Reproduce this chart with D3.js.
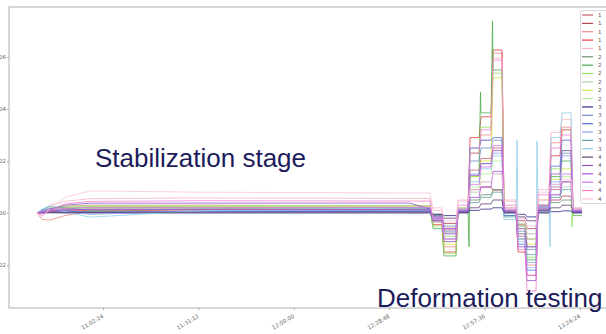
<!DOCTYPE html>
<html><head><meta charset="utf-8">
<script src="https://cdn.jsdelivr.net/npm/d3@7"></script>
<style>body{margin:0;background:#fff;overflow:hidden}</style>
</head><body><svg id="c" width="606" height="334"></svg>
<script>
// ---------- data (values in units of 1e-3) ----------
const seriesNames = ["1","1","1","1","1","2","2","2","2","2","2","3","3","3","3","3","3","4","4","4","4","4","4"];
const seriesColors = ["#c46070","#b04050","#ee8a8a","#e83c3c","#f8b4bc",
  "#6f8f6f","#4cae4c","#94e060","#b0d0b0","#d0e840","#b0f090",
  "#2c2c8c","#7090c4","#5070e0","#90a0f0","#60a4a4","#90d0ea",
  "#604070","#9050c4","#b050e0","#d474f0","#f080d0","#f8c4da"];
const stabTimes = ["10:42:28","10:43:58","10:46:23","10:50:55","10:58:28","11:31:41","12:35:07","12:41:09"];
const stabValues = [
  [0,0.5,1.5,2.5,3,3,2.8,2.8],
  [0,0.3,0.8,1.2,1.5,1.5,1.4,1.4],
  [0,-2.5,-2.7,-1,0.5,1.5,1.6,1.6],
  [0,0.2,0.5,0.8,1.0,1.2,1.2,1.2],
  [0,1,3,4.5,5.5,5.8,5.6,5.6],
  [0,0.2,0.5,0.5,0.6,0.6,0.5,0.5],
  [0,0.5,1.5,1.8,2,2.2,2.0,2.0],
  [0,0.5,1.8,2.3,2.5,2.5,2.4,2.4],
  [0,0.3,1,1.5,1.7,1.8,1.7,1.7],
  [0,0.4,1.3,2,2.2,2.3,2.2,2.2],
  [0,0.6,2,2.6,2.8,2.9,2.8,2.8],
  [0,0,0.1,0,0,0,0,0],
  [0,1,1.8,1,0.3,0.8,1,1],
  [0,0.5,1,0.6,0.2,0.5,0.6,0.6],
  [0,0.8,1.5,0.5,-0.5,0.8,1.3,1.3],
  [0,1.2,2.5,2,1,1.5,1.6,1.6],
  [0,1.5,2.8,0.5,-1.6,0.8,2.0,2.0],
  [0,0.1,0.2,0.2,0.2,0.3,0.3,0.3],
  [0,0.5,1.5,3,3.8,3.8,3.8,1.5],
  [0,0.3,0.8,1.2,1.4,1.4,1.3,1.3],
  [0,0.4,1.2,1.8,2.2,2.2,2.1,2.1],
  [0,-1,1,3.5,4.5,4.7,4.6,4.6],
  [0,-1.5,2,6,8.5,8,7.7,7.7]
];
const plateauStart = ["12:42:04","12:45:23","12:49:37","12:53:14","12:56:33","13:00:11","13:03:30","13:07:44","13:10:27","13:13:46","13:17:42","13:21:01","13:24:20"];
const plateauEnd   = ["12:44:47","12:49:00","12:52:38","12:55:57","12:59:35","13:02:54","13:07:08","13:09:51","13:13:10","13:17:05","13:20:25","13:23:44","13:27:04"];
const plateauValues = [
  [-2.0,-6.5,1.5,16.5,21,25,1.0,-4.5,-10,3.0,9,12,1.0],
  [-1.0,-4.0,0.8,9,10,8.8,0.5,-3.0,-6,1.5,5,6.5,0.5],
  [-3.5,-13,2.0,23,30,61.5,2.0,-8,-20,5.0,27,33,1.5],
  [-4.5,-15,1.0,29,37,62.7,0.5,-15,-24,3.0,22,32,1.0],
  [1.0,-5.5,5.0,25,28,59.6,5.0,-2,-8,9.0,31,36,2.0],
  [-1.5,-7.7,0.5,5,7,9,0.3,-5,-13,1.0,4,5,0.3],
  [-6.0,-16.5,0.5,14,38.5,55,-1.0,-10,-18,1.0,14,20,-1.0],
  [-5.0,-15.5,1.5,23,33,53.8,1.0,-9,-17,2.0,17,24,0.8],
  [-2.5,-9,1.0,8,12,15,0.5,-4,-8,1.5,7,10,0.8],
  [-3.0,-12,1.5,14,20,52,1.0,-6,-12,2.0,13,17,1.0],
  [-2.0,-9,2.0,10,15,20,1.0,-5,-10,2.5,10,14,1.2],
  [-0.5,-1,0,1,1.5,2,0,-0.5,-1.5,0,0.5,0.8,0],
  [-2.0,-7,1.0,20,25,28,0,-7,-14,2.0,11,23,0.5],
  [-3.0,-10,0.5,25,28,29,-1.0,-12,-22,1.0,18,28,0.5],
  [-2.5,-8,1.0,15,19,23,0,-10,-19,2.0,12,22,1.0],
  [-1.0,-5,0.5,4,6,8,-1.5,-8,-16,0.5,6,9,0.2],
  [-1.5,-6,1.5,12,17,22,-2.5,-11,-21,3.0,29,38.5,1.5],
  [-0.5,-2,0.2,2,3.5,5,0.2,-1.5,-3,0.3,2,3,0.2],
  [-3.0,-11,0.5,14.5,19,24,0.5,-13,-26,1.0,15,24,0.5],
  [-1.5,-6,0.8,6,10,16,1.0,-6,-13,1.5,7,12,0.8],
  [-2.0,-8,1.5,11,17.7,26,1.5,-9,-24,2.5,10,15,1.0],
  [-2.5,-10,3.0,23,32,58.8,3.0,-14,-30,7,25,30,1.5],
  [2.0,-3,4.5,9,12,15,4.5,-2,-5,8,11,13,2.0]
];
const spikeSeries = [6,6,6,16,16,16,7];
const spikeTimes  = ["12:52:56","12:56:24","13:00:02","13:07:26","13:13:28","13:17:23","13:24:02"];
const spikeValues = [-13,46.5,73.8,28,27.7,-13,-5.4];
const xTicks = ["11:02:24","11:31:12","12:00:00","12:28:48","12:57:36","13:26:24"];
const yTicks = [-0.02,0.00,0.02,0.04,0.06];
const xDomain = ["10:34:00","13:34:00"];
const yDomain = [-0.0365385,0.0792308];

// ---------- drawing ----------
const parse = d3.timeParse("%Y-%m-%d %H:%M:%S");
const T = s => parse("2020-01-01 " + s);
const svg = d3.select("#c");
const L = 9, R = 605, TOP = 7, B = 308;
const x = d3.scaleTime().domain(xDomain.map(T)).range([L, R]);
const y = d3.scaleLinear().domain(yDomain).range([B, TOP]);

const series = seriesNames.map((n, i) => {
  const pts = stabTimes.map((t, k) => ({t: T(t), v: stabValues[i][k]}));
  plateauStart.forEach((t, k) => {
    pts.push({t: T(t), v: plateauValues[i][k]});
    pts.push({t: T(plateauEnd[k]), v: plateauValues[i][k]});
  });
  spikeSeries.forEach((s, k) => { if (s === i) pts.push({t: T(spikeTimes[k]), v: spikeValues[k]}); });
  pts.sort((a, b) => a.t - b.t);
  return {name: n, color: seriesColors[i], pts};
});

const line = d3.line().x(d => x(d.t)).y(d => y(d.v / 1000));
const g = svg.append("g");
g.selectAll("path.s").data(series).join("path")
  .attr("class", "s")
  .attr("d", d => line(d.pts))
  .attr("fill", "none")
  .attr("stroke", d => d.color)
  .attr("stroke-width", 1)
  .attr("stroke-opacity", 0.8);

// frame
svg.append("rect").attr("x", L).attr("y", TOP).attr("width", R - L + 4).attr("height", B - TOP)
  .attr("fill", "none").attr("stroke", "#b0b0b0").attr("stroke-width", 1);

// x axis
const xa = svg.append("g").attr("transform", `translate(0,${B})`)
  .call(d3.axisBottom(x).tickValues(xTicks.map(T)).tickSize(2).tickFormat(d3.timeFormat("%H:%M:%S")));
xa.select(".domain").remove();
xa.selectAll("line").attr("stroke", "#aaa");
xa.selectAll("text").attr("font-family", "DejaVu Sans").attr("font-size", 5.5).attr("fill", "#666")
  .attr("text-anchor", "end").attr("dy", 0)
  .attr("transform", "translate(-2,5) rotate(-30)");

// y axis
const ya = svg.append("g").attr("transform", `translate(${L},0)`)
  .call(d3.axisLeft(y).tickValues(yTicks).tickSize(2).tickFormat(d3.format(".2f")));
ya.select(".domain").remove();
ya.selectAll("line").attr("stroke", "#aaa");
ya.selectAll("text").attr("font-family", "DejaVu Sans").attr("font-size", 5.5).attr("fill", "#666").attr("x", -3);

// legend
const lg = svg.append("g");
lg.append("rect").attr("x", 580.5).attr("y", 10.5).attr("width", 30).attr("height", 193)
  .attr("fill", "#fff").attr("fill-opacity", 0.9).attr("stroke", "#d8d8d8").attr("rx", 2);
const ly = i => 15 + i * 8.36;
lg.selectAll("line").data(series).join("line")
  .attr("x1", 582).attr("x2", 593).attr("y1", (d, i) => ly(i)).attr("y2", (d, i) => ly(i))
  .attr("stroke", d => d.color).attr("stroke-width", 1.2);
lg.selectAll("text").data(series).join("text")
  .attr("x", 598).attr("y", (d, i) => ly(i)).attr("dy", "0.35em")
  .attr("font-family", "DejaVu Sans").attr("font-size", 5.5).attr("fill", "#555")
  .text(d => d.name);

// annotations
const ann = [["Stabilization stage", 95, 167], ["Deformation testing", 377, 306.5]];
svg.selectAll("text.ann").data(ann).join("text").attr("class", "ann")
  .attr("x", d => d[1]).attr("y", d => d[2])
  .attr("font-family", "Liberation Sans, Arial, sans-serif").attr("font-size", 26)
  .attr("fill", "#1c1c5c").text(d => d[0]);
</script></body></html>
